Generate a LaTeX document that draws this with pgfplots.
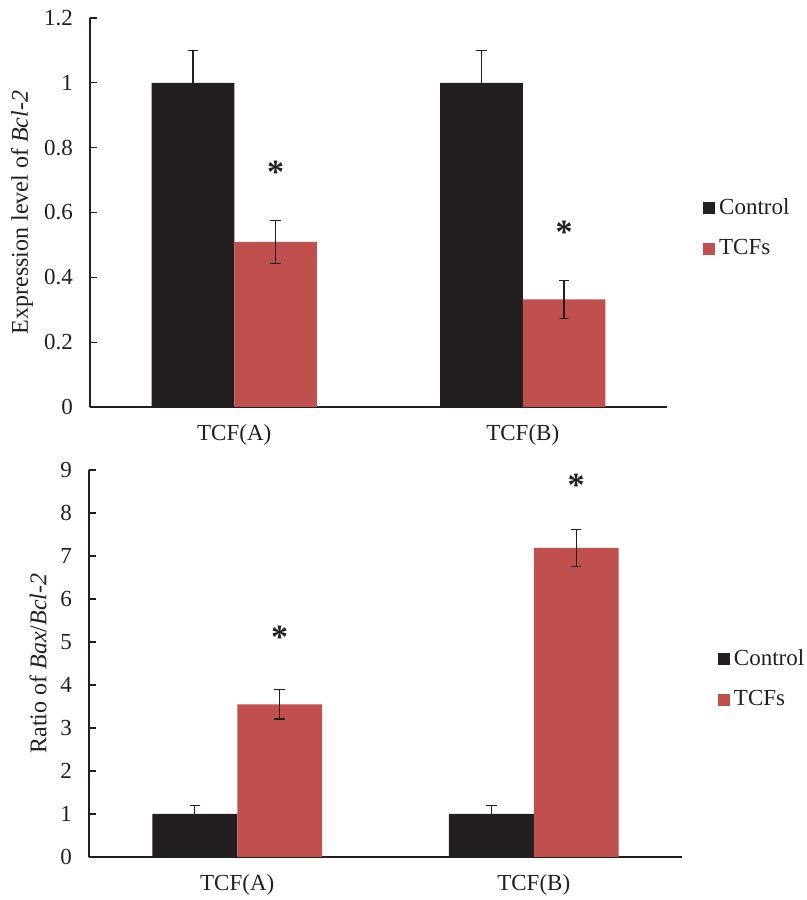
\documentclass[border=0pt]{standalone}
\usepackage{pgfplots}
\pgfplotsset{compat=1.18}
\usepackage{fontspec}
\setmainfont{Liberation Serif}
\definecolor{barblack}{HTML}{231F20}
\definecolor{barred}{HTML}{C0504D}
\definecolor{axgray}{HTML}{231F20}
\tikzset{sigstar/.style={font=\fontsize{17}{17}\selectfont\bfseries, text=axgray}}
\pgfplotsset{
  mybars/.style={
    scale only axis,
    ybar,
    bar width=0.286,
    xmin=-0.5, xmax=1.5,
    ymin=0,
    axis x line=bottom, axis y line=left,
    axis line style={-, line width=0.7pt, color=axgray},
    xtick={0,1}, xticklabels={TCF(A),TCF(B)},
    major x tick style={draw=none},
    tick align=inside,
    major tick length=3.5pt,
    major y tick style={line width=0.6pt, color=axgray},
    /pgf/number format/assume math mode=true,
    tick label style={font=\fontsize{11.5}{13}\selectfont, text=axgray},
    yticklabel style={xshift=-5pt},
    xticklabel style={yshift=-5pt},
    label style={font=\fontsize{12}{14}\selectfont, text=axgray},
    legend style={draw=none, fill=none, inner sep=0pt, anchor=north west,
      font=\fontsize{11.5}{13}\selectfont, text=axgray, row sep=7pt,
      legend cell align=left},
    legend image code/.code={\fill[#1] (0pt,-3pt) rectangle (6pt,3pt);},
    error bars/error bar style={line width=0.6pt, color=axgray},
    error bars/error mark options={rotate=90, mark size=2.6pt, line width=0.6pt, color=axgray},
  }
}
\begin{document}
\begin{tikzpicture}
\useasboundingbox (0,0) rectangle (403.5pt,450pt);
% Top chart
\begin{axis}[mybars,
  at={(45pt,246.5pt)}, anchor=south west,
  width=288.5pt, height=194.5pt,
  ymax=1.2,
  ytick={0,0.2,0.4,0.6,0.8,1,1.2},
  yticklabels={0,0.2,0.4,0.6,0.8,1,1.2},
  ylabel={Expression level of \textit{Bcl-2}},
  ylabel style={at={(axis description cs:-0.118,0.5)}, anchor=center},
  legend style={at={(1.062,0.547)}},
]
\addplot[fill=barblack, draw=none, bar shift=-0.143,
  error bars/.cd, y dir=plus, y explicit]
  coordinates {(0,1) +- (0,0.1) (1,1) +- (0,0.1)};
\addplot[fill=barred, draw=none, bar shift=0.143,
  error bars/.cd, y dir=both, y explicit]
  coordinates {(0,0.509) +- (0,0.066) (1,0.332) +- (0,0.058)};
\legend{Control,TCFs}
\node[sigstar] at (axis cs:0.143,0.725) {*};
\node[sigstar] at (axis cs:1.143,0.54) {*};
\end{axis}
% Bottom chart
\begin{axis}[mybars,
  at={(44.5pt,21.5pt)}, anchor=south west,
  width=296.5pt, height=193.5pt,
  ymax=9,
  ytick={0,1,...,9},
  ylabel={Ratio of \textit{Bax}/\textit{Bcl-2}},
  ylabel style={at={(axis description cs:-0.086,0.5)}, anchor=center},
  legend style={at={(1.06,0.547)}},
]
\addplot[fill=barblack, draw=none, bar shift=-0.143,
  error bars/.cd, y dir=plus, y explicit]
  coordinates {(0,1) +- (0,0.2) (1,1) +- (0,0.2)};
\addplot[fill=barred, draw=none, bar shift=0.143,
  error bars/.cd, y dir=both, y explicit]
  coordinates {(0,3.55) +- (0,0.34) (1,7.19) +- (0,0.43)};
\legend{Control,TCFs}
\node[sigstar] at (axis cs:0.143,5.1) {*};
\node[sigstar] at (axis cs:1.143,8.65) {*};
\end{axis}
\end{tikzpicture}
\end{document}
